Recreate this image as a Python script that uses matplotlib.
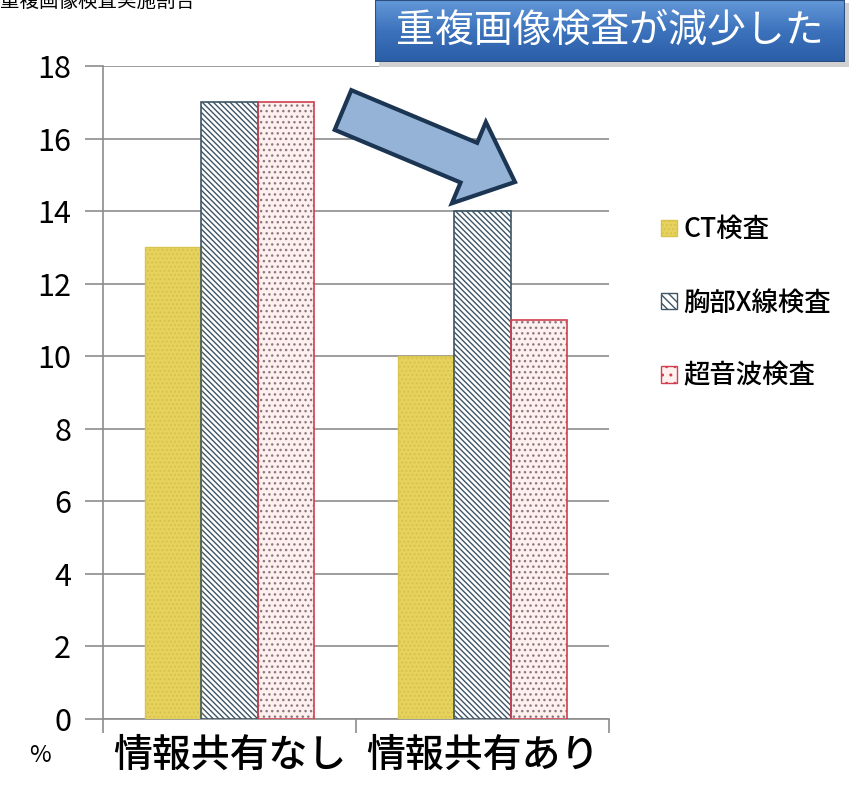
import numpy as np
import matplotlib.pyplot as plt
from matplotlib.patches import FancyArrow, Rectangle, Patch
from matplotlib.colors import LinearSegmentedColormap

plt.rcParams['font.family'] = ['Noto Sans CJK JP', 'DejaVu Sans']
plt.rcParams['hatch.linewidth'] = 1.0

# データ
categories = ["情報共有なし", "情報共有あり"]
series_names = ["CT検査", "胸部X線検査", "超音波検査"]
ct_vals = [13, 10]
xray_vals = [17, 14]
echo_vals = [17, 11]

fig = plt.figure(figsize=(8.52, 7.89), dpi=100)
ax = fig.add_axes([103 / 852, 70 / 789, 506 / 852, 653 / 789])

x = np.arange(len(categories))
w = 0.223

# CT: 黄色
ax.bar(x - w, ct_vals, w, color="#E6D35E", edgecolor="#D9C24A", hatch="....", linewidth=0, zorder=3)
ax.bar(x - w, ct_vals, w, fill=False, edgecolor="#D8C450", linewidth=1, zorder=4)
# 胸部X線: 斜線
ax.bar(x, xray_vals, w, color="white", edgecolor="#3E5566", hatch="\\\\\\\\\\\\", linewidth=0, zorder=3)
ax.bar(x, xray_vals, w, fill=False, edgecolor="#3E5566", linewidth=1.2, zorder=4)
# 超音波: 点
ax.bar(x + w, echo_vals, w, color="#FFF0F0", edgecolor="#8A7A80", hatch="...", linewidth=0, zorder=3)
ax.bar(x + w, echo_vals, w, fill=False, edgecolor="#D0404E", linewidth=1.2, zorder=4)

ax.set_xlim(-0.5, 1.5)
ax.set_ylim(0, 18)
ax.set_yticks(range(0, 19, 2))
ax.tick_params(axis="y", labelsize=22, length=13, width=1.2, color="#8C8C8C", pad=10)
ax.yaxis.grid(True, color="#8C8C8C", linewidth=1.2, zorder=0)
ax.set_axisbelow(True)

ax.set_xticks([-0.5, 0.5, 1.5])
ax.set_xticklabels([])
ax.tick_params(axis="x", length=10, width=1.2, color="#8C8C8C")
ax.set_xticks(x, minor=True)
ax.set_xticklabels(categories, minor=True, fontsize=28, fontweight="medium")
ax.tick_params(axis="x", which="minor", length=0, pad=12)

for s in ["top", "right"]:
    ax.spines[s].set_visible(False)
for s in ["left", "bottom"]:
    ax.spines[s].set_color("#8C8C8C")
    ax.spines[s].set_linewidth(1.2)

# 凡例
handles = [
    Patch(facecolor="#E6D35E", edgecolor="#D9C24A", hatch="...."),
    Patch(facecolor="white", edgecolor="#3E5566", hatch="\\\\\\\\"),
    Patch(facecolor="#FFF0F0", edgecolor="#D0404E", hatch=".."),
]
fig.legend(handles, series_names, loc="upper left", bbox_to_anchor=(648 / 852, 1 - 203 / 789),
           frameon=False, prop={"size": 19, "weight": "medium"}, handlelength=0.6, handleheight=0.6,
           handletextpad=0.25, labelspacing=1.75, borderpad=0)

# 軸タイトル
fig.text(0.0, 1.0 - 1 / 789, "重複画像検査実施割合", fontsize=14, ha="left", va="center")
fig.text(40 / 852, 1 - 755 / 789, "%", fontsize=17, ha="center", va="center")

# 矢印
arrow = FancyArrow(3.43, 6.79, 1.72, -0.72, width=0.43, head_width=0.88,
                   head_length=0.5, length_includes_head=True,
                   facecolor="#95B3D7", edgecolor="#1B3553", linewidth=3,
                   transform=fig.dpi_scale_trans, zorder=10)
fig.add_artist(arrow)

# タイトルボックス
sax = fig.add_axes([379 / 852, 1 - 67 / 789, 470 / 852, 64 / 789])
sax.set_facecolor("#D0D0D0")
sax.set_xticks([])
sax.set_yticks([])
for s in sax.spines.values():
    s.set_visible(False)
tax = fig.add_axes([375 / 852, 1 - 62 / 789, 470 / 852, 62 / 789])
grad = np.linspace(0, 1, 100).reshape(-1, 1)
cmap = LinearSegmentedColormap.from_list("b", ["#2A5DA6", "#3C72BC", "#6398D8"])
tax.imshow(grad, aspect="auto", cmap=cmap, extent=[0, 1, 0, 1], origin="lower")
tax.set_xlim(0, 1)
tax.set_ylim(0, 1)
tax.axis("off")
tax.add_patch(Rectangle((0, 0), 1, 1, fill=False, edgecolor="#2B4F80", linewidth=1.5))
tax.text(0.5, 0.5, "重複画像検査が減少した", color="white", fontsize=28, ha="center", va="center")

fig.savefig("out.png", dpi=100)
